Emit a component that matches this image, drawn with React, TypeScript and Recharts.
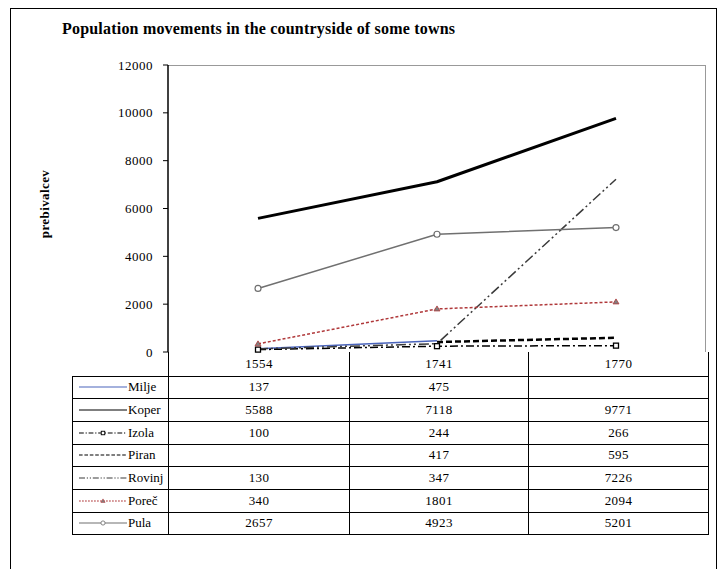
import React from "react";
import { Line, LineChart, XAxis, YAxis } from "recharts";

// census years (x categories) and inhabitants per town
const years = ["1554", "1741", "1770"];
const yTicks = [0, 2000, 4000, 6000, 8000, 10000, 12000];

const milje = [137, 475, null];
const koper = [5588, 7118, 9771];
const izola = [100, 244, 266];
const piran = [null, 417, 595];
const rovinj = [130, 347, 7226];
const porec = [340, 1801, 2094];
const pula = [2657, 4923, 5201];

const towns = ["Milje", "Koper", "Izola", "Piran", "Rovinj", "Poreč", "Pula"];
const values = [milje, koper, izola, piran, rovinj, porec, pula];

const data = years.map((year, i) => {
  const row: Record<string, any> = { year };
  towns.forEach((t, k) => (row[t] = values[k][i]));
  return row;
});

type Marker = "none" | "square" | "triangle" | "circle";
interface SeriesStyle {
  color: string;
  width: number;
  dash?: string;
  marker: Marker;
}

// line style per town, same order as towns
const styles: SeriesStyle[] = [
  { color: "#4a64bb", width: 1.5, marker: "none" },
  { color: "#000000", width: 3, marker: "none" },
  { color: "#000000", width: 1.5, dash: "8 3 2 3", marker: "square" },
  { color: "#000000", width: 2.5, dash: "6 3", marker: "none" },
  { color: "#3a3a3a", width: 1.5, dash: "10 3 2 3 2 3", marker: "none" },
  { color: "#b0383a", width: 1.5, dash: "3 2", marker: "triangle" },
  { color: "#707070", width: 1.5, marker: "circle" },
];

const FONT = "'Liberation Serif', 'Times New Roman', serif";

const markerShape = (m: Marker, color: string, cx: number, cy: number, key?: any) => {
  if (m === "square")
    return <rect key={key} x={cx - 2.5} y={cy - 2.5} width={5} height={5} fill="#fff" stroke={color} strokeWidth={1.3} />;
  if (m === "triangle")
    return (
      <polygon
        key={key}
        points={`${cx},${cy - 3} ${cx + 3},${cy + 2} ${cx - 3},${cy + 2}`}
        fill="#808080"
        stroke={color}
        strokeWidth={0.8}
      />
    );
  if (m === "circle")
    return <circle key={key} cx={cx} cy={cy} r={3} fill="#fff" stroke={color} strokeWidth={1.2} />;
  return <g key={key} />;
};

const dotFor = (s: SeriesStyle) => {
  if (s.marker === "none") return false;
  return (props: any) => {
    if (props.value == null || props.cy == null) return <g key={props.key ?? props.index} />;
    return markerShape(s.marker, s.color, props.cx, props.cy, props.key ?? props.index);
  };
};

const LegendKey = ({ s }: { s: SeriesStyle }) => (
  <svg width={48} height={10} style={{ display: "block", flex: "none" }}>
    <line
      x1={0}
      y1={5}
      x2={48}
      y2={5}
      stroke={s.color}
      strokeWidth={Math.min(s.width, 1.2)}
      strokeDasharray={s.dash ? s.dash.split(" ").map((d) => Math.max(1, +d * 0.6)).join(" ") : undefined}
    />
    {s.marker !== "none" && (
      <g transform="translate(24 5) scale(0.7) translate(-24 -5)">{markerShape(s.marker, s.color, 24, 5)}</g>
    )}
  </svg>
);

const cell: React.CSSProperties = {
  border: "1px solid #000",
  textAlign: "center",
  padding: 0,
  fontSize: 13,
  letterSpacing: 0.4,
  lineHeight: "14px",
};

export default function App() {
  return (
    <div
      style={{
        position: "absolute",
        left: 0,
        top: 0,
        width: 723,
        height: 569,
        background: "#fff",
        fontFamily: FONT,
        overflow: "hidden",
      }}
    >
      {/* chart frame */}
      <div
        style={{
          position: "absolute",
          left: 10,
          top: 8,
          width: 707,
          height: 580,
          border: "1.5px solid #000",
          boxSizing: "border-box",
        }}
      />
      <div
        style={{
          position: "absolute",
          left: 62,
          top: 20,
          fontSize: 16,
          fontWeight: "bold",
          whiteSpace: "nowrap",
          letterSpacing: 0.2,
        }}
      >
        Population movements in the countryside of some towns
      </div>
      <div
        style={{
          position: "absolute",
          left: 45,
          top: 204,
          transform: "translate(-50%, -50%) rotate(-90deg)",
          fontSize: 13,
          fontWeight: "bold",
          letterSpacing: 0.4,
          whiteSpace: "nowrap",
        }}
      >
        prebivalcev
      </div>
      {/* plot area border */}
      <div
        style={{
          position: "absolute",
          left: 168,
          top: 65,
          width: 538,
          height: 287,
          borderTop: "1.5px solid #999",
          borderRight: "1.5px solid #999",
          boxSizing: "border-box",
        }}
      />
      <div style={{ position: "absolute", left: 0, top: 0 }}>
        <LineChart width={723} height={569} data={data} margin={{ top: 65, right: 17, bottom: 217, left: 0 }}>
          <XAxis
            dataKey="year"
            height={0}
            tick={false}
            tickLine={false}
            axisLine={{ stroke: "#707070", strokeWidth: 1.5 }}
            padding={{ left: 90, right: 90 }}
          />
          <YAxis
            width={168}
            domain={[0, 12000]}
            ticks={yTicks}
            interval={0}
            tickSize={5}
            tickMargin={10}
            axisLine={{ stroke: "#000", strokeWidth: 1.5 }}
            tickLine={{ stroke: "#000" }}
            tick={{ fill: "#000", fontSize: 13, fontFamily: FONT, letterSpacing: 0.5 }}
          />
          {towns.map((t, k) => (
            <Line
              key={t}
              dataKey={t}
              type="linear"
              stroke={styles[k].color}
              strokeWidth={styles[k].width}
              strokeDasharray={styles[k].dash}
              strokeLinejoin="round"
              dot={dotFor(styles[k])}
              activeDot={false}
              isAnimationActive={false}
            />
          ))}
        </LineChart>
      </div>
      {/* data table under the plot */}
      <table
        style={{
          position: "absolute",
          left: 72,
          top: 352,
          borderCollapse: "collapse",
          fontFamily: FONT,
          tableLayout: "fixed",
        }}
      >
        <colgroup>
          <col style={{ width: 96 }} />
          <col style={{ width: 181 }} />
          <col style={{ width: 179 }} />
          <col style={{ width: 180 }} />
        </colgroup>
        <tbody>
          <tr style={{ height: 24 }}>
            <td style={{ padding: 0 }} />
            {years.map((y) => (
              <td key={y} style={{ ...cell, borderTop: "none" }}>
                {y}
              </td>
            ))}
          </tr>
          {towns.map((t, k) => (
            <tr key={t} style={{ height: 22.7 }}>
              <td style={{ ...cell, textAlign: "left", paddingLeft: 6, letterSpacing: 0 }}>
                <div style={{ display: "flex", alignItems: "center", gap: 1 }}>
                  <LegendKey s={styles[k]} />
                  <span>{t}</span>
                </div>
              </td>
              {values[k].map((v, i) => (
                <td key={i} style={cell}>
                  {v ?? ""}
                </td>
              ))}
            </tr>
          ))}
        </tbody>
      </table>
    </div>
  );
}
